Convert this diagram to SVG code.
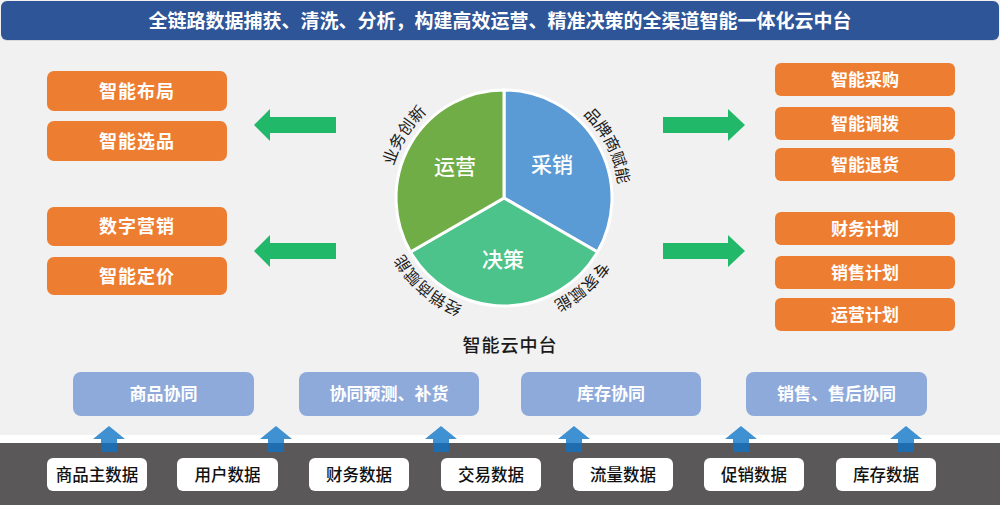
<svg xmlns="http://www.w3.org/2000/svg" width="1000" height="505" viewBox="0 0 1000 505">
<style>
text{font-family:"Noto Sans CJK SC","Noto Sans",sans-serif;text-anchor:middle}
.hd{fill:#fff;font-size:19px;font-weight:700}
.or{fill:#ed7d31}
.ot{fill:#fff;font-size:18px;font-weight:700;letter-spacing:1px}
.ort{fill:#fff;font-size:17px;font-weight:700}
.lb{fill:#8eaadb}
.lbt{fill:#fff;font-size:17px;font-weight:700}
.db{fill:#fff}
.dbt{fill:#111;font-size:16.5px;font-weight:500}
.pl{fill:#fff;font-size:21px;font-weight:500}
.ct{fill:#1a1a1a;font-size:16px}
.ga{fill:#22b86a}
.ua{fill:url(#ug)}
</style>
<defs>
<linearGradient id="ug" gradientUnits="userSpaceOnUse" x1="0" y1="426" x2="0" y2="452">
<stop offset="0" stop-color="#3f91d2"/>
<stop offset="0.65" stop-color="#3f91d2"/>
<stop offset="0.65" stop-color="#1f6cae"/>
<stop offset="1" stop-color="#1f6cae"/>
</linearGradient>
<path id="circ" d="M619,198 A115,115 0 1 1 389,198 A115,115 0 1 1 619,198"/>
</defs>
<rect x="0" y="0" width="1000" height="505" fill="#f1f1f1"/>
<rect x="0" y="435" width="1000" height="8" fill="#ffffff"/>
<rect x="0" y="443" width="1000" height="62" fill="#5a5858"/>

<g id="header">
<rect x="1" y="2" width="998" height="39" rx="6" fill="#d9d9d9"/>
<rect x="1" y="1" width="998" height="39" rx="6" fill="#2e5597"/>
<text class="hd" x="500" y="27.5">全链路数据捕获、清洗、分析，构建高效运营、精准决策的全渠道智能一体化云中台</text>
</g>

<g id="pie">
<path d="M504,198 L504,90 A108,108 0 0 1 597.53,252 Z" fill="#5b9bd5" stroke="#fff" stroke-width="3"/>
<path d="M504,198 L597.53,252 A108,108 0 0 1 410.47,252 Z" fill="#4cc38a" stroke="#fff" stroke-width="3"/>
<path d="M504,198 L410.47,252 A108,108 0 0 1 504,90 Z" fill="#70ad47" stroke="#fff" stroke-width="3"/>
<text class="pl" x="455" y="174">运营</text>
<text class="pl" x="552" y="172">采销</text>
<text class="pl" x="503" y="267">决策</text>
<text class="ct"><textPath href="#circ" startOffset="58.9%">业务创新</textPath></text>
<text class="ct"><textPath href="#circ" startOffset="92.6%">品牌商赋能</textPath></text>
<text class="ct"><textPath href="#circ" startOffset="36.4%">经销商赋能</textPath></text>
<text class="ct"><textPath href="#circ" startOffset="13.5%">专家赋能</textPath></text>
<text x="510" y="352" fill="#1a1a1a" font-size="18" font-weight="500" letter-spacing="1">智能云中台</text>
</g>

<g id="left-boxes">
<g id="n-zhinengbuju"><rect class="or" x="47" y="71" width="180" height="40" rx="7"/><text class="ot" x="137" y="97.5">智能布局</text></g>
<g id="n-zhinengxuanpin"><rect class="or" x="47" y="121" width="180" height="40" rx="7"/><text class="ot" x="137" y="147.5">智能选品</text></g>
<g id="n-shuziyingxiao"><rect class="or" x="47" y="207" width="180" height="39" rx="7"/><text class="ot" x="137" y="233">数字营销</text></g>
<g id="n-zhinengdingjia"><rect class="or" x="47" y="257" width="180" height="38" rx="7"/><text class="ot" x="137" y="282.5">智能定价</text></g>
</g>

<g id="right-boxes">
<g id="n-zhinengcaigou"><rect class="or" x="775" y="63" width="180" height="33" rx="6"/><text class="ort" x="865" y="85.5">智能采购</text></g>
<g id="n-zhinengdiaobo"><rect class="or" x="775" y="107" width="180" height="33" rx="6"/><text class="ort" x="865" y="129.5">智能调拨</text></g>
<g id="n-zhinengtuihuo"><rect class="or" x="775" y="148" width="180" height="33" rx="6"/><text class="ort" x="865" y="170.5">智能退货</text></g>
<g id="n-caiwujihua"><rect class="or" x="775" y="212" width="180" height="33" rx="6"/><text class="ort" x="865" y="234.5">财务计划</text></g>
<g id="n-xiaoshoujihua"><rect class="or" x="775" y="256" width="180" height="33" rx="6"/><text class="ort" x="865" y="278.5">销售计划</text></g>
<g id="n-yunyingjihua"><rect class="or" x="775" y="298" width="180" height="33" rx="6"/><text class="ort" x="865" y="320.5">运营计划</text></g>
</g>

<g id="collab-boxes">
<g id="n-shangpinxietong"><rect class="lb" x="73" y="372" width="181" height="44" rx="8"/><text class="lbt" x="163.5" y="400">商品协同</text></g>
<g id="n-xietongyuce"><rect class="lb" x="299" y="372" width="180" height="44" rx="8"/><text class="lbt" x="389" y="400">协同预测、补货</text></g>
<g id="n-kucunxietong"><rect class="lb" x="521" y="372" width="180" height="44" rx="8"/><text class="lbt" x="611" y="400">库存协同</text></g>
<g id="n-xiaoshouxietong"><rect class="lb" x="746" y="372" width="181" height="44" rx="8"/><text class="lbt" x="836.5" y="400">销售、售后协同</text></g>
</g>

<g id="data-boxes">
<g id="d1"><rect class="db" x="47" y="458" width="100" height="33" rx="6"/><text class="dbt" x="97" y="480.5">商品主数据</text></g>
<g id="d2"><rect class="db" x="177" y="458" width="101" height="33" rx="6"/><text class="dbt" x="227.5" y="480.5">用户数据</text></g>
<g id="d3"><rect class="db" x="309" y="458" width="100" height="33" rx="6"/><text class="dbt" x="359" y="480.5">财务数据</text></g>
<g id="d4"><rect class="db" x="441" y="458" width="100" height="33" rx="6"/><text class="dbt" x="491" y="480.5">交易数据</text></g>
<g id="d5"><rect class="db" x="573" y="458" width="100" height="33" rx="6"/><text class="dbt" x="623" y="480.5">流量数据</text></g>
<g id="d6"><rect class="db" x="704" y="458" width="100" height="33" rx="6"/><text class="dbt" x="754" y="480.5">促销数据</text></g>
<g id="d7"><rect class="db" x="836" y="458" width="100" height="33" rx="6"/><text class="dbt" x="886" y="480.5">库存数据</text></g>
</g>

<g id="connectors">
<polygon class="ga" points="254,125 270,109 270,117 336,117 336,133 270,133 270,141"/>
<polygon class="ga" points="254,251 270,235 270,243 336,243 336,259 270,259 270,267"/>
<polygon class="ga" points="745,125 728,109 728,117 663,117 663,133 728,133 728,141"/>
<polygon class="ga" points="745,251 728,235 728,243 663,243 663,259 728,259 728,267"/>
<polygon class="ua" points="109,426 125,439 117,439 117,452 101,452 101,439 93,439"/>
<polygon class="ua" points="276,426 292,439 284,439 284,452 268,452 268,439 260,439"/>
<polygon class="ua" points="441,426 457,439 449,439 449,452 433,452 433,439 425,439"/>
<polygon class="ua" points="574,426 590,439 582,439 582,452 566,452 566,439 558,439"/>
<polygon class="ua" points="741,426 757,439 749,439 749,452 733,452 733,439 725,439"/>
<polygon class="ua" points="906,426 922,439 914,439 914,452 898,452 898,439 890,439"/>
</g>
</svg>
